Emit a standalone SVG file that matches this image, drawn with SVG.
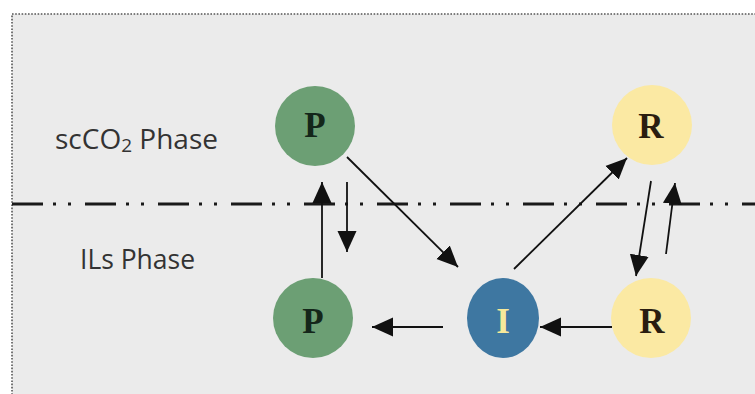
<svg xmlns="http://www.w3.org/2000/svg" width="755" height="394" viewBox="0 0 755 394">
  <defs>
    <marker id="ah" markerUnits="userSpaceOnUse" markerWidth="22" markerHeight="22" refX="21" refY="10" orient="auto">
      <path d="M0,0.5 L21,10 L0,19.5 Z" fill="#111"/>
    </marker>
    <style>
      .phase { font-family: "Open Sans", "Liberation Sans", sans-serif; font-size: 28px; fill: #333; }
      .lbl { font-family: "Liberation Serif", "Times New Roman", serif; font-weight: bold; font-size: 35px; text-anchor: middle; }
      .conn line { stroke: #111; stroke-width: 1.8; marker-end: url(#ah); }
      .green { fill: #6c9f74; }
      .yellow { fill: #fbe9a3; }
      .blue { fill: #3e77a1; }
    </style>
  </defs>
  <rect x="0" y="0" width="755" height="394" fill="#ffffff"/>
  <rect x="12" y="14" width="760" height="400" fill="#ebebeb" stroke="#555" stroke-width="1.6" stroke-dasharray="1.6 1.6"/>
  <line x1="12" y1="204" x2="755" y2="204" stroke="#1a1a1a" stroke-width="3" stroke-dasharray="31 10 3 12 3 14"/>

  <text class="phase" x="55" y="149">scCO<tspan font-size="19" dy="3">2</tspan><tspan dy="-3"> Phase</tspan></text>
  <text class="phase" x="80" y="269" textLength="115" lengthAdjust="spacingAndGlyphs">ILs Phase</text>

  <g id="node-P-top">
    <circle class="green" cx="315" cy="126" r="40"/>
    <text class="lbl" x="315" y="137" fill="#14261a">P</text>
  </g>
  <g id="node-R-top">
    <circle class="yellow" cx="652" cy="125" r="40"/>
    <text class="lbl" x="651" y="138" fill="#2a1d10">R</text>
  </g>
  <g id="node-P-bottom">
    <circle class="green" cx="313" cy="318" r="40"/>
    <text class="lbl" x="313" y="333" fill="#14261a">P</text>
  </g>
  <g id="node-I">
    <ellipse class="blue" cx="503" cy="318" rx="36" ry="40"/>
    <text class="lbl" x="503" y="333" fill="#f6e99a">I</text>
  </g>
  <g id="node-R-bottom">
    <circle class="yellow" cx="651" cy="318" r="40"/>
    <text class="lbl" x="652" y="333" fill="#2a1d10">R</text>
  </g>

  <g id="connectors" class="conn">
    <line x1="347" y1="157" x2="458" y2="267"/>
    <line x1="514" y1="269" x2="627" y2="158"/>
    <line x1="651" y1="181" x2="636" y2="276"/>
    <line x1="666" y1="254" x2="675" y2="183"/>
    <line x1="612" y1="327" x2="540" y2="327"/>
    <line x1="443" y1="327" x2="372" y2="327"/>
    <line x1="322" y1="278" x2="322" y2="182"/>
    <line x1="347" y1="182" x2="347" y2="252"/>
  </g>
</svg>
